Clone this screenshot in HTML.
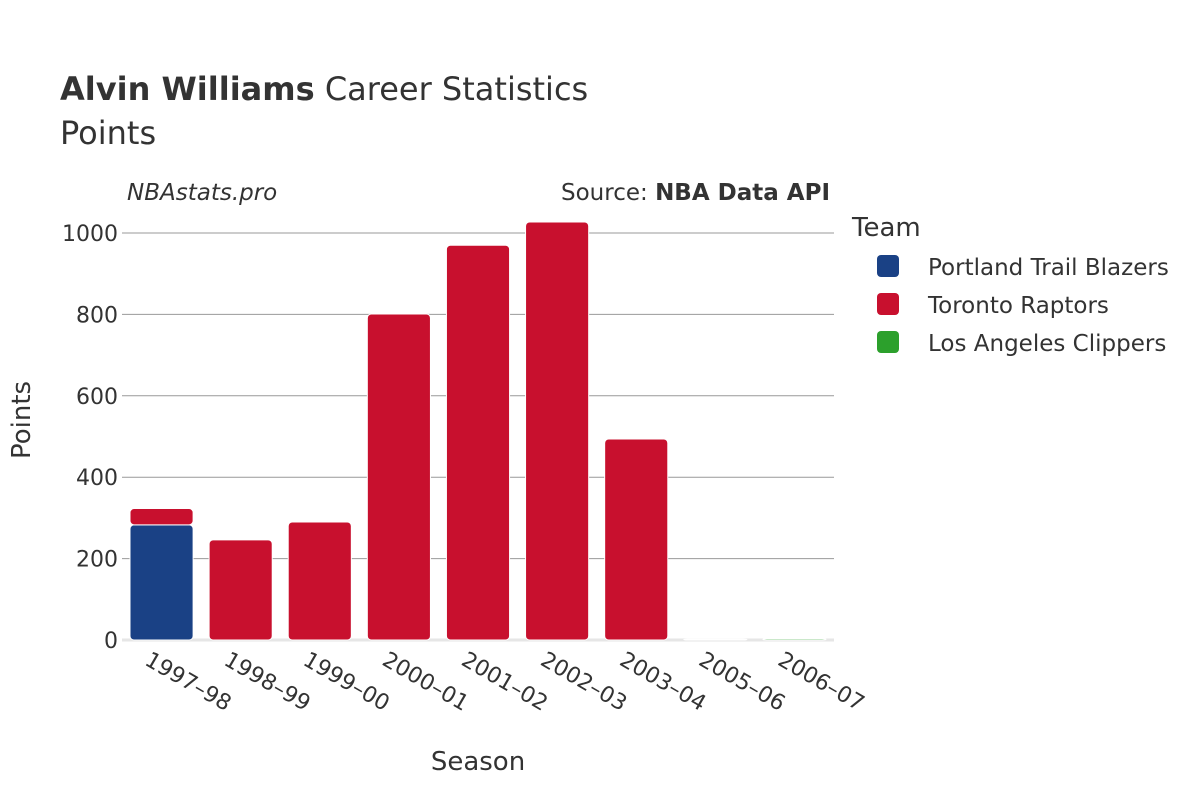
<!DOCTYPE html>
<html><head><meta charset="utf-8"><style>
body{margin:0;background:#fff;font-family:"Liberation Sans","DejaVu Sans",sans-serif}
svg text{font-family:"DejaVu Sans","Liberation Sans",sans-serif;fill:#333}
</style></head><body>
<svg width="1200" height="800">
<text x="60" y="100" font-size="32"><tspan font-weight="bold">Alvin Williams</tspan> Career Statistics</text>
<text x="60" y="144" font-size="32">Points</text>
<text x="127" y="200" font-size="23" font-style="italic">NBAstats.pro</text>
<text x="830" y="200" font-size="23" text-anchor="end">Source: <tspan font-weight="bold">NBA Data API</tspan></text>
<g id="grid"></g>
<g id="bars"></g>
<g id="xt"></g>
<text x="30" y="420" font-size="26" text-anchor="middle" transform="rotate(-90 30 420)">Points</text>
<text x="478" y="770" font-size="26" text-anchor="middle">Season</text>
<text x="852" y="236" font-size="26">Team</text>
<g id="legend"></g>
</svg>
<script>
const seasons=["1997–98","1998–99","1999–00","2000–01","2001–02","2002–03","2003–04","2005–06","2006–07"];
const teams=["Portland Trail Blazers","Toronto Raptors","Los Angeles Clippers"];
const colors=["#1a4185","#c8102e","#2ca02c"];
const portland=[283,0,0,0,0,0,0,0,0];
const toronto=[40,246,290,801,970,1027,494,2,0];
const clippers=[0,0,0,0,0,0,0,0,3];
const yTicks=[0,200,400,600,800,1000];
const NS="http://www.w3.org/2000/svg";
const x0=122,x1=834,y0=640,yScale=407/1000;
const bw=(x1-x0)/seasons.length;
const Y=v=>y0-v*yScale;
function mk(t,a,p){const e=document.createElementNS(NS,t);for(const k in a)e.setAttribute(k,a[k]);p.appendChild(e);return e;}
const grid=document.getElementById('grid');
yTicks.forEach(v=>{
 if(v>0){const l=mk('line',{x1:x0,x2:x1,y1:Y(v),y2:Y(v),stroke:'#999','stroke-width':1},grid);
 
 }
 const t=mk('text',{x:x0-4,y:Y(v)+8,'font-size':22,'text-anchor':'end'},grid);t.textContent=v;
 
 
});
const zl=mk('line',{x1:x0,x2:x1,y1:y0,y2:y0,stroke:'#e6e6e6','stroke-width':3},grid);


const bars=document.getElementById('bars');
const series=[portland,toronto,clippers];
seasons.forEach((s,i)=>{
 let base=0;
 series.forEach((ser,j)=>{
  const v=ser[i]; if(!v)return;
  const r=mk('rect',{x:x0+i*bw+8,width:bw-16,y:Y(base+v),height:v*yScale,fill:colors[j],stroke:'#fff','stroke-width':1,rx:4},bars);
  
  
  base+=v;
 });
 const cx=x0+i*bw+bw/2;
 const t=mk('text',{x:cx-18,y:y0+24,'font-size':22,transform:`rotate(30 ${cx-18} ${y0+24})`},document.getElementById('xt'));
 t.textContent=s;
 
 
});
const lg=document.getElementById('legend');
teams.forEach((n,i)=>{
 const y=266+i*38;
 const r=mk('rect',{x:877,y:y-11,width:22,height:22,rx:4,fill:colors[i]},lg);
 
 
 const t=mk('text',{x:928,y:y+9,'font-size':23},lg);t.textContent=n;
 
 
});
</script>
</body></html>
